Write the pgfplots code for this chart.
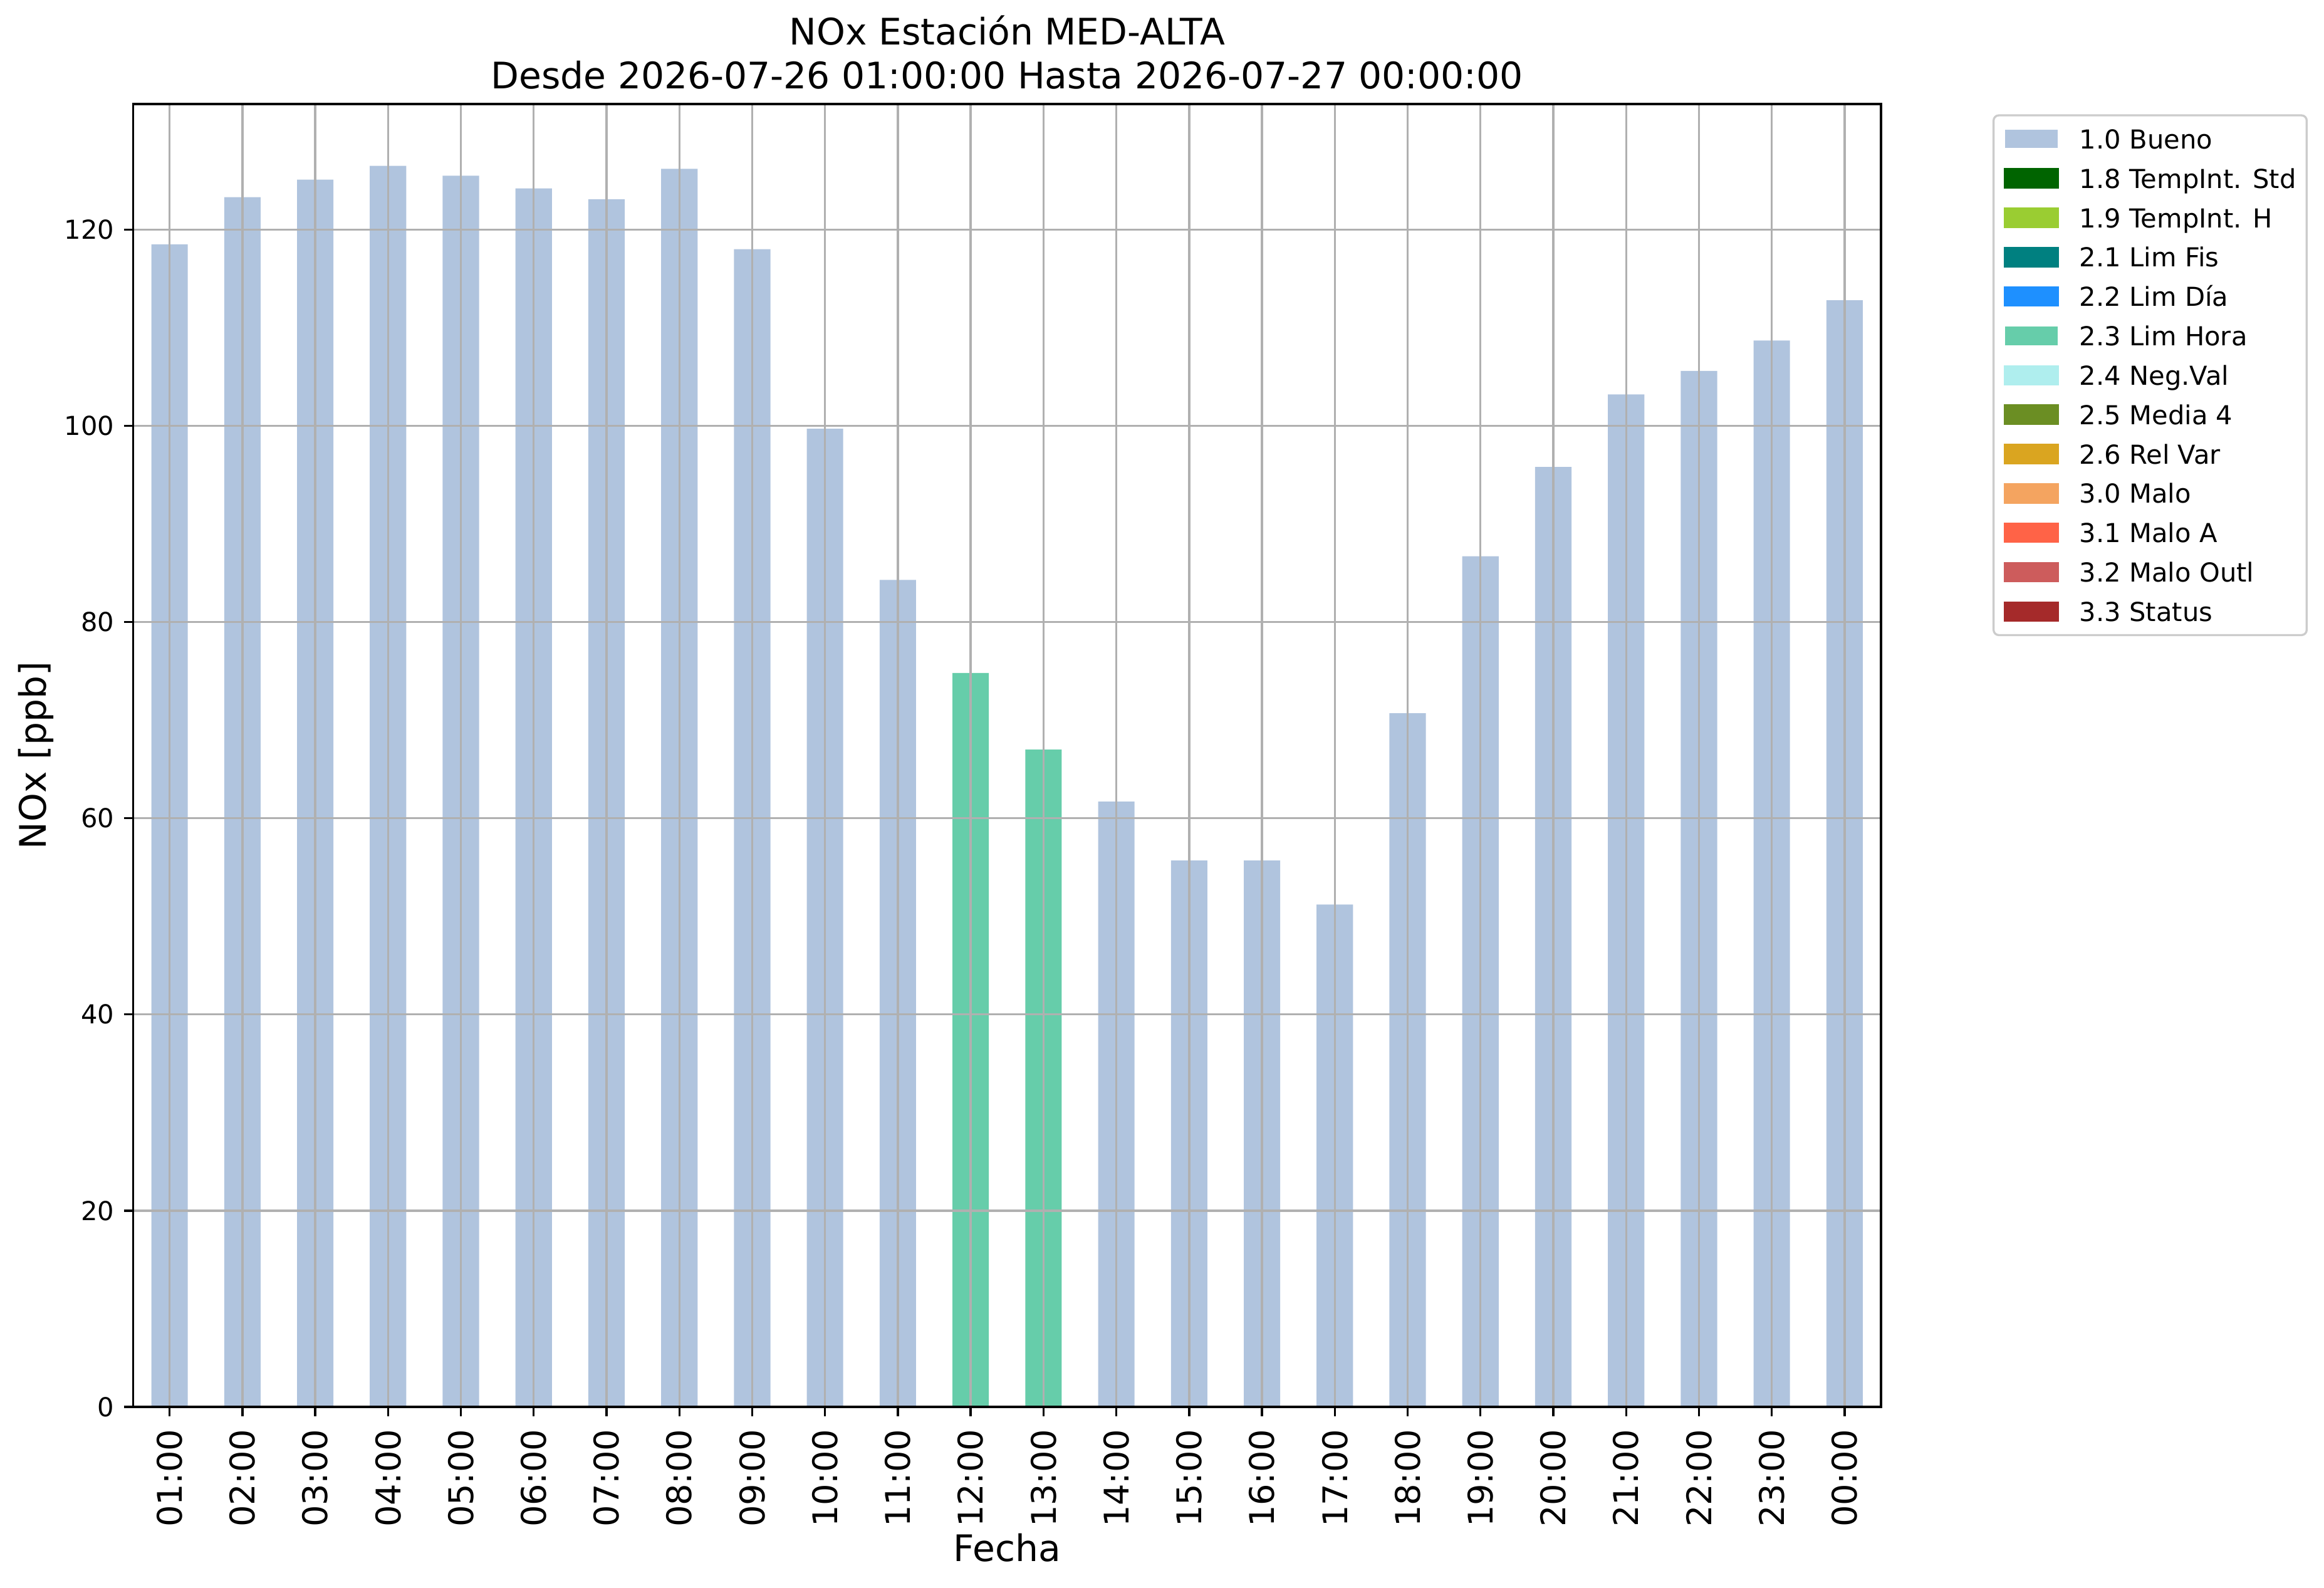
\documentclass[border=0pt]{standalone}
\usepackage{fontspec}
\setmainfont{DejaVu Sans}
\usepackage{pgfplots}
\pgfplotsset{compat=1.18}
\definecolor{bueno}{HTML}{B0C4DE}
\definecolor{cA}{HTML}{006400}
\definecolor{cB}{HTML}{9ACD32}
\definecolor{cC}{HTML}{008080}
\definecolor{cD}{HTML}{1E90FF}
\definecolor{limhora}{HTML}{66CDAA}
\definecolor{cE}{HTML}{AFEEEE}
\definecolor{cF}{HTML}{6B8E23}
\definecolor{cG}{HTML}{DAA520}
\definecolor{cH}{HTML}{F4A460}
\definecolor{cI}{HTML}{FF6347}
\definecolor{cJ}{HTML}{CD5C5C}
\definecolor{cK}{HTML}{A52A2A}
\definecolor{gridgray}{HTML}{B0B0B0}
\definecolor{legedge}{HTML}{CCCCCC}
\pgfplotsset{lgpatch/.style={legend image code/.code={\fill[#1, sharp corners] (0bp,-3.5bp) rectangle (20.16bp,3.5bp);}}}
\pgfplotstableread{
x y
0 118.5
1 123.3
2 125.1
3 126.5
4 125.5
5 124.2
6 123.1
7 126.2
8 118.0
9 99.7
10 84.3
13 61.7
14 55.7
15 55.7
16 51.2
17 70.7
18 86.7
19 95.8
20 103.2
21 105.6
22 108.7
23 112.8
}\buenodata
\pgfplotstableread{
x y
11 74.8
12 67.0
}\limhoradata
\begin{document}
\begin{tikzpicture}
\useasboundingbox (-51bp,-69.36bp) rectangle (839.16bp,538.8bp);
\begin{axis}[
  at={(0,0)}, anchor=south west,
  scale only axis, width=669.48bp, height=498.96bp,
  xmin=-0.5, xmax=23.5, ymin=0, ymax=132.8,
  xtick={0,...,23},
  xticklabels={01:00,02:00,03:00,04:00,05:00,06:00,07:00,08:00,09:00,10:00,11:00,12:00,13:00,14:00,15:00,16:00,17:00,18:00,19:00,20:00,21:00,22:00,23:00,00:00},
  ytick={0,20,...,120},
  grid=major, grid style={color=gridgray, line width=0.8bp},
  axis on top, clip=false,
  axis line style={line width=0.8bp, black},
  tick style={line width=0.8bp, black},
  tick align=outside, major tick length=3.5bp,
  tick pos=left,
  /pgf/number format/assume math mode=true,
  yticklabel style={font=\fontsize{10bp}{12bp}\selectfont, anchor=east, inner sep=0pt, xshift=-3.6bp},
  xticklabel style={font=\fontsize{13bp}{15.6bp}\selectfont, yshift=-4.9bp, rotate=90, anchor=east, inner sep=0pt},
  xlabel={Fecha},
  xlabel style={at={(rel axis cs:0.5,-0.11833)}, anchor=base, inner sep=0pt, font=\fontsize{14bp}{16.8bp}\selectfont},
  ylabel={NOx [ppb]},
  ylabel style={at={(rel axis cs:-0.04965,0.5)}, rotate=0, anchor=base, inner sep=0pt, font=\fontsize{14bp}{16.8bp}\selectfont},
  legend cell align=left,
  legend style={at={(rel axis cs:1.0638,0.9921)}, anchor=north west,
    draw=legedge, line width=0.8bp, rounded corners=2bp,
    inner xsep=4bp, inner ysep=1.5bp, row sep=0pt, column sep=8bp,
    font=\fontsize{10bp}{12bp}\selectfont,
    nodes={inner sep=0pt, text height=11.28bp, text depth=3.8bp, anchor=west}},
]
\addplot[ybar, bar width=0.5, bar shift=0pt, fill=bueno, draw=none, lgpatch=bueno] table[x=x,y=y]{\buenodata};
\addlegendentry{1.0 Bueno}
\addlegendimage{lgpatch=cA}\addlegendentry{1.8 TempInt. Std}
\addlegendimage{lgpatch=cB}\addlegendentry{1.9 TempInt. H}
\addlegendimage{lgpatch=cC}\addlegendentry{2.1 Lim Fis}
\addlegendimage{lgpatch=cD}\addlegendentry{2.2 Lim Día}
\addplot[ybar, bar width=0.5, bar shift=0pt, fill=limhora, draw=none, lgpatch=limhora] table[x=x,y=y]{\limhoradata};
\addlegendentry{2.3 Lim Hora}
\addlegendimage{lgpatch=cE}\addlegendentry{2.4 Neg.Val}
\addlegendimage{lgpatch=cF}\addlegendentry{2.5 Media 4}
\addlegendimage{lgpatch=cG}\addlegendentry{2.6 Rel Var}
\addlegendimage{lgpatch=cH}\addlegendentry{3.0 Malo}
\addlegendimage{lgpatch=cI}\addlegendentry{3.1 Malo A}
\addlegendimage{lgpatch=cJ}\addlegendentry{3.2 Malo Outl}
\addlegendimage{lgpatch=cK}\addlegendentry{3.3 Status}
\node[anchor=base, inner sep=0pt, font=\fontsize{14bp}{16.8bp}\selectfont] at (rel axis cs:0.5,1.04521) {NOx Estación MED-ALTA};
\node[anchor=base, inner sep=0pt, font=\fontsize{14bp}{16.8bp}\selectfont] at (rel axis cs:0.5,1.01154) {Desde 2026-07-26 01:00:00 Hasta 2026-07-27 00:00:00};
\end{axis}
\end{tikzpicture}
\end{document}
